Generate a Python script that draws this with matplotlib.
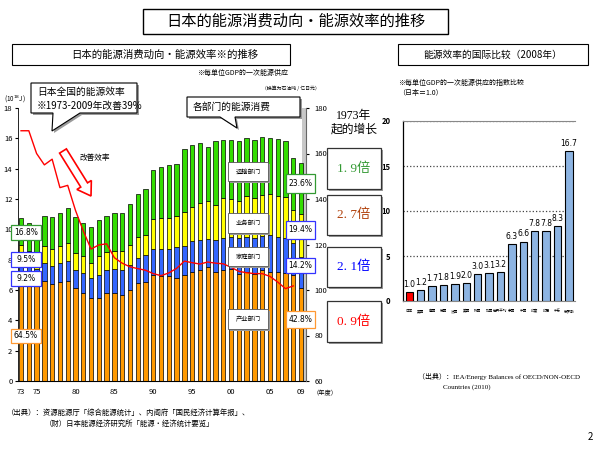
import numpy as np
import matplotlib
matplotlib.use('Agg')
import matplotlib.pyplot as plt
from matplotlib.patches import Rectangle, Polygon, FancyArrow

plt.rcParams['font.family'] = ['Noto Sans CJK SC', 'DejaVu Sans']

# ---- data: sector energy consumption (10^18 J), stacked bottom -> top
years = np.arange(1973, 2010)
industry = [6.95, 6.60, 6.35, 6.60, 6.40, 6.53, 6.62,
            6.14, 5.81, 5.44, 5.50, 5.83, 5.83, 5.70, 6.03, 6.43, 6.53,
            7.02, 6.90, 6.93, 6.82, 7.02, 7.19, 7.35, 7.52, 7.19, 7.30,
            7.41, 7.08, 7.19, 7.08, 7.30, 7.19, 7.20, 7.10, 6.97, 6.15]
household = [0.99, 0.95, 1.05, 1.20, 1.19, 1.27, 1.32,
             1.21, 1.34, 1.32, 1.52, 1.47, 1.54, 1.60, 1.65, 1.71, 1.76,
             1.66, 1.83, 1.80, 2.02, 1.91, 2.02, 1.95, 1.87, 2.11, 2.15,
             2.09, 2.32, 2.31, 2.37, 2.25, 2.41, 2.30, 2.35, 2.13, 2.05]
commercial = [1.02, 1.05, 1.10, 1.08, 1.11, 1.08, 1.18,
              1.09, 1.07, 1.02, 1.20, 1.19, 1.23, 1.25, 1.27, 1.35, 1.36,
              2.02, 2.04, 2.04, 2.02, 2.21, 2.29, 2.43, 2.47, 2.28, 2.63,
              2.50, 2.50, 2.69, 2.63, 2.69, 2.70, 2.69, 2.68, 2.20, 2.79]
transport = [1.81, 1.84, 1.75, 2.00, 2.13, 2.22, 2.31,
             2.35, 2.22, 2.37, 2.37, 2.41, 2.50, 2.55, 2.69, 2.81, 3.03,
             3.23, 3.37, 3.44, 3.46, 4.16, 4.09, 3.97, 3.60, 4.23, 3.84,
             3.86, 3.91, 3.84, 3.84, 3.83, 3.70, 3.77, 3.68, 3.42, 3.39]

# energy efficiency (right axis)
eff_years = np.arange(1973, 2009)
efficiency = [170, 170, 160, 155, 157.5, 145, 146,
              135, 126, 118, 119.8, 120.3, 114.2, 111.8, 110.2, 109.4, 108.7,
              107.2, 106.3, 107.5, 109.5, 112.7, 112, 111.4, 112.3, 111.8, 111.5,
              110, 108.2, 107.6, 107.2, 107.2, 106, 103.5, 100.6, 101.8]

year_ticks = [1973, 1975, 1980, 1985, 1990, 1995, 2000, 2005, 2009]
year_labels = ['73', '75', '80', '85', '90', '95', '00', '05', '09']

# international comparison
countries = ['日本', '英国', '意国', '德国', '法国', '美国', '韩国', '加国',
             '世界平均', '泰国', '中国', '印度', '印尼', '中东', '俄罗斯']
country_values = [1.0, 1.2, 1.7, 1.8, 1.9, 2.0, 3.0, 3.1, 3.2, 6.3, 6.6, 7.8, 7.8, 8.3, 16.7]

W, H = 600, 450
fig = plt.figure(figsize=(6, 4.5), dpi=100)


def rect(l, t, r, b):
    return [l / W, 1 - b / H, (r - l) / W, (b - t) / H]


# ---- left chart
ax = fig.add_axes(rect(18, 108, 306, 381))
bw = 0.56
ax.axvspan(2009.1, 2009.64, color='#c8c8c8', zorder=0, lw=0)
bottom = np.zeros(len(years))
for vals, col in [(industry, '#FF9900'), (household, '#3366FF'),
                  (commercial, '#FFFF00'), (transport, '#33DD00')]:
    ax.bar(years, vals, width=bw, bottom=bottom, color=col,
           edgecolor='black', linewidth=0.5, zorder=2)
    bottom = bottom + np.array(vals)
ax.set_xlim(1972.61, 2009.64)
ax.set_ylim(0, 18)
ax.set_yticks(range(0, 19, 2))
ax.set_xticks(year_ticks)
ax.set_xticklabels(year_labels)
ax.tick_params(axis='y', labelsize=5.5, length=2, pad=2)
ax.tick_params(axis='x', labelsize=5.5, length=0, pad=5)
for s in ['top', 'right']:
    ax.spines[s].set_visible(False)
ax.spines['left'].set_linewidth(0.6)
ax.spines['bottom'].set_linewidth(0.8)

ax2 = ax.twinx()
ax2.plot(eff_years, efficiency, color='red', lw=1)
ax2.set_ylim(60, 180)
ax2.set_yticks(range(60, 181, 20))
ax2.tick_params(axis='y', labelsize=5.5, length=2, pad=4)
for s in ['top', 'left', 'bottom']:
    ax2.spines[s].set_visible(False)
ax2.spines['right'].set_color('#666666')
ax2.spines['right'].set_linewidth(0.8)

# ---- right chart
bx = fig.add_axes(rect(403, 121, 575, 301))
cols = ['#FF0000'] + ['#8DB4E2'] * (len(country_values) - 1)
xs = np.arange(len(country_values))
bx.bar(xs, country_values, width=0.64, color=cols, edgecolor='black', linewidth=0.8, zorder=3)
for x, v in zip(xs, country_values):
    bx.text(x, v + 0.35, f'{v:.1f}', ha='center', va='bottom', fontsize=5.5,
            family=['DejaVu Sans'])
bx.set_xlim(-0.55, 14.53)
bx.set_ylim(0, 20)
bx.set_yticks([0, 5, 10, 15, 20])
bx.set_xticks(xs)
bx.set_xticklabels(countries, fontsize=2.6)
bx.tick_params(axis='x', length=0, pad=6)
bx.tick_params(axis='y', labelsize=5.5, length=0, pad=9)
for lab in bx.get_yticklabels():
    lab.set_fontweight('bold')
bx.yaxis.grid(True, linestyle=':', color='#444444', lw=0.9)
bx.set_axisbelow(True)
bx.spines['right'].set_visible(False)
bx.spines['top'].set_color('#888888')
bx.spines['left'].set_linewidth(0.9)
bx.spines['bottom'].set_color('#888888')

# ---- overlay in pixel coordinates for boxes and annotations
ov = fig.add_axes([0, 0, 1, 1], zorder=10)
ov.set_xlim(0, W)
ov.set_ylim(H, 0)
ov.axis('off')
ov.patch.set_alpha(0)


def box(l, t, r, b, ec='black', lw=0.8, shadow=True):
    if shadow:
        ov.add_patch(Rectangle((l + 2, t + 2), r - l, b - t, fc='#9a9a9a', ec='none'))
    ov.add_patch(Rectangle((l, t), r - l, b - t, fc='white', ec=ec, lw=lw))


def callout(l, t, r, b, b1, b2, tip):
    pts = [(l, t), (r, t), (r, b), (b2, b), tip, (b1, b), (l, b)]
    ov.add_patch(Polygon([(x + 2, y + 2) for x, y in pts], closed=True, fc='#9a9a9a', ec='none'))
    ov.add_patch(Polygon(pts, closed=True, fc='white', ec='black', lw=0.8))


# titles
box(143, 9, 448, 34, lw=1, shadow=False)
ov.text(296, 21.5, '日本的能源消费动向・能源效率的推移', ha='center', va='center', fontsize=11)
box(12, 44, 290, 65, lw=0.8, shadow=False)
ov.text(165, 54.5, '日本的能源消费动向・能源效率※的推移', ha='center', va='center', fontsize=7.5)
box(398, 44, 588, 65, lw=0.8, shadow=False)
ov.text(493, 54.5, '能源效率的国际比较（2008年）', ha='center', va='center', fontsize=7)

ov.text(197, 73, '※每单位GDP的一次能源供应', ha='left', va='center', fontsize=5)
ov.text(262, 88, '（换算为石油吨 / 亿日元）', ha='left', va='center', fontsize=3.5)
ov.text(4, 99, '(10$^{18}$J)', ha='left', va='center', fontsize=4.5)

# callouts
callout(31, 83, 137, 113, 53, 80, (52, 131))
ov.text(37, 92, '日本全国的能源效率', ha='left', va='center', fontsize=7)
ov.text(37, 106, '※1973-2009年改善39%', ha='left', va='center', fontsize=7)
callout(187, 97, 300, 117, 220, 235, (237, 128))
ov.text(193, 107, '各部门的能源消费', ha='left', va='center', fontsize=7)

# hollow arrow
ov.add_patch(FancyArrow(63, 151, 28, 45, width=8, head_width=17, head_length=13,
                        length_includes_head=True, fc='white', ec='red', lw=1.2))
ov.text(80, 158, '改善效率', ha='left', va='center', fontsize=5.5)

# sector labels
for t, b, s in [(162, 181, '运输部门'), (213, 233, '业务部门'),
                (247, 266, '家庭部门'), (309, 329, '产业部门')]:
    box(228, t, 268, b, ec='#555555', lw=0.6)
    ov.text(248, (t + b) / 2, s, ha='center', va='center', fontsize=4.5)

# percentages 1973 (left) and 2009 (right)
for t, b, s, c in [(225, 240, '16.8%', '#339933'), (252, 267, '9.5%', '#3333FF'),
                   (271, 286, '9.2%', '#3333FF'), (329, 343, '64.5%', '#FF9933')]:
    box(11, t, 41, b, ec=c, lw=0.9, shadow=False)
    ov.text(26, (t + b) / 2, s, ha='center', va='center', fontsize=5.5, family=['DejaVu Sans'])
for t, b, s, c in [(174, 193, '23.6%', '#339933'), (221, 239, '19.4%', '#3333FF'),
                   (258, 273, '14.2%', '#3333FF'), (311, 328, '42.8%', '#FF9933')]:
    box(286, t, 315, b, ec=c, lw=0.9, shadow=False)
    ov.text(300.5, (t + b) / 2, s, ha='center', va='center', fontsize=5.5, family=['DejaVu Sans'])

# growth since 1973
ov.text(354, 123, '1973年\n起的增长', ha='center', va='center', fontsize=8.5,
        family=['Liberation Serif', 'Noto Sans CJK SC'], linespacing=1.2)
for t, b, s, c in [(148, 189, '1. 9倍', '#339933'), (195, 235, '2. 7倍', '#B0400A'),
                   (247, 287, '2. 1倍', '#0000FF'), (301, 342, '0. 9倍', '#FF0000')]:
    box(327, t, 381, b, ec='#333333', lw=0.9)
    ov.text(354, (t + b) / 2, s, ha='center', va='center', fontsize=9.5, color=c,
            family=['Liberation Serif', 'Noto Sans CJK SC'])

ov.text(313, 393, '（年度）', ha='left', va='center', fontsize=4.5)

# right chart notes
ov.text(398, 83, '※每单位GDP的一次能源供应的指数比较', ha='left', va='center', fontsize=5)
ov.text(398, 93, '（日本＝1.0）', ha='left', va='center', fontsize=5)
ov.text(418, 377, '（出典）：IEA/Energy Balances of OECD/NON-OECD', ha='left', va='center',
        fontsize=5, family=['Liberation Serif', 'Noto Sans CJK SC'])
ov.text(443, 387, 'Countries (2010)', ha='left', va='center', fontsize=5,
        family=['Liberation Serif', 'Noto Sans CJK SC'])

# sources
ov.text(7, 413, '（出典）：资源能源厅「综合能源统计」、内阁府「国民经济计算年报」、',
        ha='left', va='center', fontsize=5.3)
ov.text(45, 424, '（财）日本能源经济研究所「能源・经济统计要览」',
        ha='left', va='center', fontsize=5.3)
ov.text(590, 437, '2', ha='center', va='center', fontsize=7)

fig.savefig('out.png', dpi=100)
